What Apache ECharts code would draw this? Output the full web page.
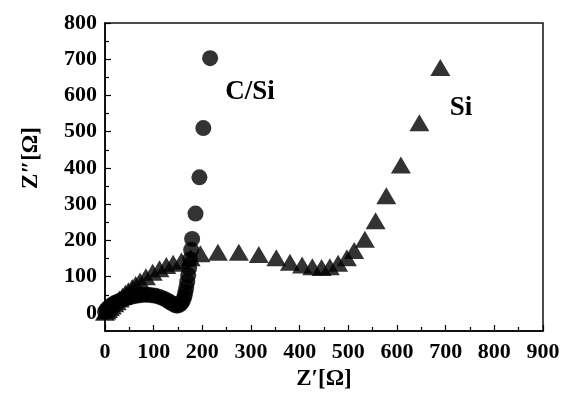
<!DOCTYPE html>
<html>
<head>
<meta charset="utf-8">
<script src="https://cdn.jsdelivr.net/npm/echarts@6/dist/echarts.min.js"></script>
<style>
html,body{margin:0;padding:0;background:#fff;}
#c{width:565px;height:398px;}
</style>
</head>
<body>
<div id="c"></div>
<script>
// Si (triangles)
const siX = [0,3,6,10,14,19,24,30,36,42,48,56,63,72,84,98,112,126,140,157,176,196,232,275,316,352,380,405,426,445,462,479,497,512,534,556,578,608,646,689];
const siY = [2,5,9,14,19,25,31,38,46,54,61,70,78,88,100,112,122,131,137,143,152,163,167,167,161,152,140,132,127,125,127,137,152,172,203,254,323,408,525,677];
// C/Si (circles)
const csiX = [0,3,6,10,15,20,26,33,40,48,56,64,72,80,88,96,104,112,120,127,133,138,143,148,153,157,160,163,165,167,169,171,173,175,177,179,186,194,202,216];
const csiY = [3,8,13,18,23,27,31,35,39,42,45,47,49,50,50,49,47,44,40,35,30,26,22,20,22,27,34,44,56,70,86,104,124,148,174,204,274,374,510,703];
// tick labels
const xTickValues = [0,100,200,300,400,500,600,700,800,900];
const yTickValues = [0,100,200,300,400,500,600,700,800];
const yMinorValues = [50,150,250,350,450,550,650,750];
const seriesNames = ['Si','C/Si'];

const FONT = '"Liberation Serif","Times New Roman",serif';
const chart = echarts.init(document.getElementById('c'));
const siData = siX.map((x,i)=>[x,siY[i]]);
const csiData = csiX.map((x,i)=>[x,csiY[i]]);

chart.setOption({
  animation:false,
  backgroundColor:'#fff',
  grid:{left:105,right:22,top:23,bottom:67,show:true,borderColor:'#111',borderWidth:1.5,backgroundColor:'transparent'},
  xAxis:{
    type:'value',min:xTickValues[0],max:xTickValues[xTickValues.length-1],interval:100,
    name:'Z\u2032[\u03A9]',nameLocation:'middle',nameGap:30,
    nameTextStyle:{fontFamily:FONT,fontWeight:'bold',fontSize:23,color:'#000'},
    axisLine:{show:true,onZero:false,lineStyle:{color:'#000',width:1.5}},
    axisTick:{show:true,inside:true,length:6,lineStyle:{color:'#000',width:1.2}},
    minorTick:{show:true,splitNumber:2,length:4,lineStyle:{color:'#000',width:1.2}},
    axisLabel:{fontFamily:FONT,fontWeight:'bold',fontSize:22,color:'#000',margin:10},
    splitLine:{show:false}
  },
  yAxis:[{
    type:'value',min:-50,max:800,
    name:'Z\u2033[\u03A9]',nameLocation:'middle',nameGap:62,
    nameTextStyle:{fontFamily:FONT,fontWeight:'bold',fontSize:23,color:'#000',padding:[0,0,0,38]},
    axisLine:{show:true,onZero:false,lineStyle:{color:'#000',width:1.5}},
    axisTick:{show:true,inside:true,length:6,customValues:yTickValues,lineStyle:{color:'#000',width:1.2}},
    axisLabel:{fontFamily:FONT,fontWeight:'bold',fontSize:22,color:'#000',margin:8,customValues:yTickValues},
    splitLine:{show:false}
  },{
    type:'value',min:-50,max:800,position:'left',
    axisLine:{show:false,onZero:false},
    axisTick:{show:true,inside:true,length:4,customValues:yMinorValues,lineStyle:{color:'#000',width:1.2}},
    axisLabel:{show:false},
    splitLine:{show:false}
  }],
  series:[{
    name:seriesNames[0],type:'scatter',data:siData,symbol:'triangle',symbolSize:[20,17],
    itemStyle:{color:'#000'},clip:false,yAxisIndex:0
  },{
    name:seriesNames[1],type:'scatter',data:csiData,symbol:'circle',symbolSize:16,
    itemStyle:{color:'#000'},clip:false,yAxisIndex:0
  }],
  graphic:[
    {type:'text',style:{text:'C/Si',font:'bold 27px '+FONT,fill:'#000',x:250,y:92,align:'center',verticalAlign:'middle'}},
    {type:'text',style:{text:'Si',font:'bold 27px '+FONT,fill:'#000',x:461,y:108,align:'center',verticalAlign:'middle'}}
  ]
});
</script>
</body>
</html>
